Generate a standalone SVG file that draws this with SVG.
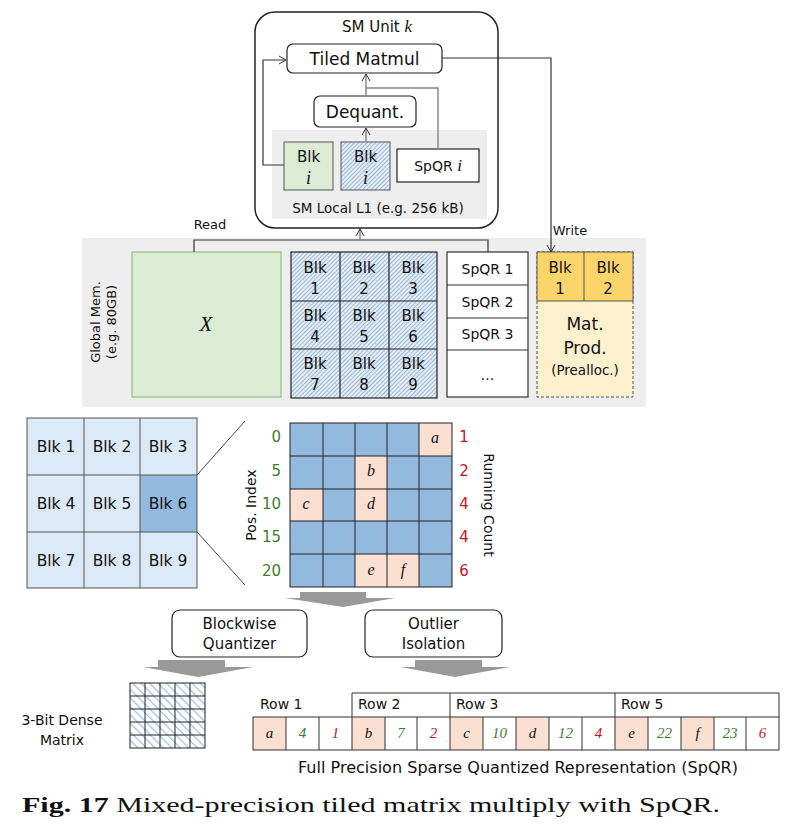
<svg xmlns="http://www.w3.org/2000/svg" width="792" height="833" viewBox="0 0 792 833">
<defs>
<pattern id="hatch" width="3" height="3" patternUnits="userSpaceOnUse" patternTransform="rotate(45)">
<rect width="3" height="3" fill="#e3ecf7"/><line x1="0" y1="0" x2="0" y2="3" stroke="#6f98c8" stroke-width="1.2"/>
</pattern>
<pattern id="stripe" width="6" height="6" patternUnits="userSpaceOnUse" patternTransform="rotate(-45)">
<rect width="6" height="6" fill="#fff"/><line x1="0" y1="0" x2="0" y2="6" stroke="#9cc0e6" stroke-width="2.5"/>
</pattern>
<marker id="ar" markerWidth="10" markerHeight="10" refX="8" refY="5" orient="auto" markerUnits="userSpaceOnUse"><path d="M1,1 L8,5 L1,9" fill="none" stroke="#333" stroke-width="1"/></marker>
</defs>
<style>
text{font-family:"DejaVu Sans","Noto Sans",sans-serif;fill:#111}
text.m,.m text,tspan.m{font-family:"Liberation Serif",serif;font-style:italic}
text.cap{font-family:"Liberation Serif",serif}
.b{stroke:#222;stroke-width:1.2}
.ln{fill:none;stroke:#333;stroke-width:1.2}
.gl{fill:none;stroke:#888;stroke-width:1.5}
text.g,.g{fill:#3f7d2e}text.r,.r{fill:#c8161d}
.o{fill:#fbe0d2}.bl{fill:#93b9de}
</style>
<rect width="792" height="833" fill="#fff"/>

<g id="sm-unit">
<rect x="255" y="12" width="243" height="216" rx="20" fill="#fff" stroke="#222" stroke-width="1.5"/>
<text x="377" y="32" text-anchor="middle" font-size="15">SM Unit <tspan class="m" font-size="17">k</tspan></text>
</g>
<g id="l1">
<rect x="272" y="130" width="215" height="89" fill="#eeeeee"/>
<text x="378" y="213" text-anchor="middle" font-size="13.5">SM Local L1 (e.g. 256 kB)</text>
</g>
<g id="tiled-matmul"><rect x="287" y="44" width="155" height="29" rx="6" fill="#fff" class="b"/><text x="364.5" y="65" text-anchor="middle" font-size="17">Tiled Matmul</text></g>
<g id="dequant"><rect x="314" y="96" width="102" height="31" rx="6" fill="#fff" class="b"/><text x="365" y="118" text-anchor="middle" font-size="17">Dequant.</text></g>
<g id="blk-i-x"><rect x="284" y="142" width="49" height="48" fill="#dcebd4" stroke="#555"/><text x="308.5" y="162" text-anchor="middle" font-size="15">Blk</text><text x="308.5" y="184" text-anchor="middle" font-size="18" class="m">i</text></g>
<g id="blk-i-w"><rect x="341" y="142" width="49" height="48" fill="url(#hatch)" stroke="#555"/><text x="365.5" y="162" text-anchor="middle" font-size="15">Blk</text><text x="365.5" y="184" text-anchor="middle" font-size="18" class="m">i</text></g>
<g id="spqr-i"><rect x="397" y="149" width="82" height="33" fill="#fff" class="b"/><text x="438" y="171" text-anchor="middle" font-size="14">SpQR <tspan class="m" font-size="17">i</tspan></text></g>

<g id="global-mem">
<rect x="82" y="238" width="564" height="169" fill="#eeeeee"/>
<text transform="translate(100,322) rotate(-90)" text-anchor="middle" font-size="13" fill="#333">Global Mem.</text>
<text transform="translate(116,322) rotate(-90)" text-anchor="middle" font-size="13" fill="#333">(e.g. 80GB)</text>
</g>
<g id="x-mat"><rect x="132" y="252" width="149" height="145" fill="#dcebd4" stroke="#8fc17f" stroke-width="1.2"/><text x="206" y="331" text-anchor="middle" font-size="21" class="m">X</text></g>
<g id="w-blocks">
<rect x="291" y="252" width="146" height="146" fill="url(#hatch)"/>
<g stroke="#222" stroke-width="1.2" fill="none"><rect x="291" y="252" width="146" height="146"/><line x1="340" y1="252" x2="340" y2="398"/><line x1="389" y1="252" x2="389" y2="398"/><line x1="291" y1="301" x2="437" y2="301"/><line x1="291" y1="349" x2="437" y2="349"/></g>
<g font-size="15" text-anchor="middle">
<text x="315" y="273">Blk</text><text x="315" y="294">1</text><text x="364" y="273">Blk</text><text x="364" y="294">2</text><text x="413" y="273">Blk</text><text x="413" y="294">3</text>
<text x="315" y="321">Blk</text><text x="315" y="342">4</text><text x="364" y="321">Blk</text><text x="364" y="342">5</text><text x="413" y="321">Blk</text><text x="413" y="342">6</text>
<text x="315" y="369">Blk</text><text x="315" y="390">7</text><text x="364" y="369">Blk</text><text x="364" y="390">8</text><text x="413" y="369">Blk</text><text x="413" y="390">9</text>
</g></g>
<g id="spqr-list">
<rect x="447" y="252" width="81" height="145" fill="#fff" stroke="#333" stroke-width="1.2"/>
<g stroke="#333" stroke-width="1"><line x1="447" y1="285" x2="528" y2="285"/><line x1="447" y1="318" x2="528" y2="318"/><line x1="447" y1="350" x2="528" y2="350"/></g>
<g font-size="14" text-anchor="middle"><text x="487.5" y="274">SpQR 1</text><text x="487.5" y="307">SpQR 2</text><text x="487.5" y="339">SpQR 3</text><text x="487.5" y="380">...</text></g>
</g>
<g id="mat-prod">
<rect x="537" y="252" width="96" height="145" fill="#fdf0cc" stroke="#555" stroke-dasharray="3,2"/>
<rect x="537" y="252" width="96" height="49" fill="#fbd46a" stroke="#555"/>
<line x1="584" y1="252" x2="584" y2="301" stroke="#555"/>
<g font-size="15" text-anchor="middle"><text x="560" y="273">Blk</text><text x="560" y="294">1</text><text x="608" y="273">Blk</text><text x="608" y="294">2</text>
<text x="585" y="330" font-size="17">Mat.</text><text x="585" y="354" font-size="17">Prod.</text><text x="585" y="375" font-size="13.5">(Prealloc.)</text></g>
</g>

<g id="connectors">
<path class="ln" d="M284,165 H263 V60 H286" marker-end="url(#ar)"/>
<path class="gl" d="M438,149 V88 H366"/>
<path class="gl" d="M366,142 V128" marker-end="url(#ar)"/>
<path class="gl" d="M366,96 V74" marker-end="url(#ar)"/>
<path class="ln" d="M442,58 H551 V252" marker-end="url(#ar)"/>
<path class="ln" d="M194,252 V240 H488 V252"/>
<path class="gl" d="M360,240 V229" marker-end="url(#ar)"/>
<line x1="197" y1="475" x2="245" y2="421" stroke="#444" stroke-width="1"/>
<line x1="197" y1="532" x2="245" y2="585" stroke="#444" stroke-width="1"/>
<path d="M300,592 H366 V598 H395 L343,607 L285,598 H300 Z" fill="#999"/>
<path d="M158,660 H225 V667 H253 L198,677 L143,667 H158 Z" fill="#999"/>
<path d="M415,660 H482 V667 H510 L455,677 L400,667 H415 Z" fill="#999"/>
</g>
<text x="210" y="229" text-anchor="middle" font-size="13">Read</text>
<text x="570" y="235" text-anchor="middle" font-size="13">Write</text>

<g id="blk-grid">
<rect x="27" y="418" width="170" height="170" fill="#dce9f6"/>
<rect x="140" y="475" width="57" height="57" fill="#93b9de"/>
<g stroke="#555" stroke-width="1" fill="none"><rect x="27" y="418" width="170" height="170"/><line x1="84" y1="418" x2="84" y2="588"/><line x1="140" y1="418" x2="140" y2="588"/><line x1="27" y1="475" x2="197" y2="475"/><line x1="27" y1="532" x2="197" y2="532"/></g>
<g font-size="15.5" text-anchor="middle"><text x="56" y="452">Blk 1</text><text x="112" y="452">Blk 2</text><text x="168" y="452">Blk 3</text><text x="56" y="509">Blk 4</text><text x="112" y="509">Blk 5</text><text x="168" y="509">Blk 6</text><text x="56" y="566">Blk 7</text><text x="112" y="566">Blk 8</text><text x="168" y="566">Blk 9</text></g>
</g>

<g id="blk6-detail">
<rect x="290" y="423" width="162" height="164" class="bl"/>
<rect x="419" y="423" width="33" height="33" class="o"/>
<rect x="355" y="456" width="32" height="33" class="o"/>
<rect x="290" y="489" width="33" height="32" class="o"/>
<rect x="355" y="489" width="32" height="32" class="o"/>
<rect x="355" y="554" width="32" height="33" class="o"/>
<rect x="387" y="554" width="32" height="33" class="o"/>
<g stroke="#222" stroke-width="1" fill="none"><rect x="290" y="423" width="162" height="164"/>
<line x1="323" y1="423" x2="323" y2="587"/><line x1="355" y1="423" x2="355" y2="587"/><line x1="387" y1="423" x2="387" y2="587"/><line x1="419" y1="423" x2="419" y2="587"/>
<line x1="290" y1="456" x2="452" y2="456"/><line x1="290" y1="489" x2="452" y2="489"/><line x1="290" y1="521" x2="452" y2="521"/><line x1="290" y1="554" x2="452" y2="554"/></g>
<g font-size="16" text-anchor="middle" class="m"><text x="435" y="443">a</text><text x="371" y="476">b</text><text x="306" y="509">c</text><text x="371" y="509">d</text><text x="371" y="575">e</text><text x="403" y="575">f</text></g>
<g font-size="15" text-anchor="end"><text x="281" y="442" class="g">0</text><text x="281" y="476" class="g">5</text><text x="281" y="509" class="g">10</text><text x="281" y="542" class="g">15</text><text x="281" y="576" class="g">20</text></g>
<g font-size="15" text-anchor="middle"><text x="464" y="442" class="r">1</text><text x="464" y="476" class="r">2</text><text x="464" y="509" class="r">4</text><text x="464" y="542" class="r">4</text><text x="464" y="576" class="r">6</text></g>
<text transform="translate(256,505) rotate(-90)" text-anchor="middle" font-size="14">Pos. Index</text>
<text transform="translate(484,505) rotate(90)" text-anchor="middle" font-size="14">Running Count</text>
</g>

<g id="quantizer"><rect x="172" y="610" width="135" height="47" rx="8" fill="#fff" class="b"/><text x="239.5" y="629" text-anchor="middle" font-size="15">Blockwise</text><text x="239.5" y="649" text-anchor="middle" font-size="15">Quantizer</text></g>
<g id="outlier"><rect x="365" y="610" width="137" height="47" rx="8" fill="#fff" class="b"/><text x="433.5" y="629" text-anchor="middle" font-size="15">Outlier</text><text x="433.5" y="649" text-anchor="middle" font-size="15">Isolation</text></g>

<g id="dense">
<rect x="130" y="683" width="75" height="65" fill="url(#stripe)"/>
<g stroke="#222" stroke-width="1" fill="none"><rect x="130" y="683" width="75" height="65"/><line x1="145" y1="683" x2="145" y2="748"/><line x1="160" y1="683" x2="160" y2="748"/><line x1="175" y1="683" x2="175" y2="748"/><line x1="190" y1="683" x2="190" y2="748"/><line x1="130" y1="696" x2="205" y2="696"/><line x1="130" y1="709" x2="205" y2="709"/><line x1="130" y1="722" x2="205" y2="722"/><line x1="130" y1="735" x2="205" y2="735"/></g>
<text x="62" y="725" text-anchor="middle" font-size="14">3-Bit Dense</text><text x="62" y="745" text-anchor="middle" font-size="14">Matrix</text>
</g>

<g id="spqr-row">
<g class="o"><rect x="253" y="717" width="33" height="33"/><rect x="352" y="717" width="33" height="33"/><rect x="450" y="717" width="33" height="33"/><rect x="516" y="717" width="33" height="33"/><rect x="615" y="717" width="33" height="33"/><rect x="681" y="717" width="33" height="33"/></g>
<g stroke="#333" stroke-width="1" fill="none">
<rect x="253" y="717" width="526" height="33"/>
<path d="M286,717V750M319,717V750M352,717V750M385,717V750M417,717V750M450,717V750M483,717V750M516,717V750M549,717V750M582,717V750M615,717V750M648,717V750M681,717V750M714,717V750M746,717V750"/>
<path d="M352,693H779V717M352,693V717M450,693V717M615,693V717"/>
</g>
<g font-size="14"><text x="260" y="709">Row 1</text><text x="358" y="709">Row 2</text><text x="456" y="709">Row 3</text><text x="621" y="709">Row 5</text></g>
<g font-size="15" text-anchor="middle" class="m">
<text x="269.5" y="738">a</text><text x="302.5" y="738" class="g">4</text><text x="335.5" y="738" class="r">1</text>
<text x="368.5" y="738">b</text><text x="401" y="738" class="g">7</text><text x="433.5" y="738" class="r">2</text>
<text x="466.5" y="738">c</text><text x="499.5" y="738" class="g">10</text><text x="532.5" y="738">d</text><text x="565.5" y="738" class="g">12</text><text x="598.5" y="738" class="r">4</text>
<text x="631.5" y="738">e</text><text x="664.5" y="738" class="g">22</text><text x="697.5" y="738">f</text><text x="730" y="738" class="g">23</text><text x="762.5" y="738" class="r">6</text>
</g>
<text x="518" y="773" text-anchor="middle" font-size="15" textLength="440" lengthAdjust="spacingAndGlyphs">Full Precision Sparse Quantized Representation (SpQR)</text>
</g>

<text class="cap" x="22" y="812" font-size="21" textLength="698" lengthAdjust="spacingAndGlyphs"><tspan font-weight="bold">Fig. 17</tspan>  Mixed-precision tiled matrix multiply with SpQR.</text>
</svg>
